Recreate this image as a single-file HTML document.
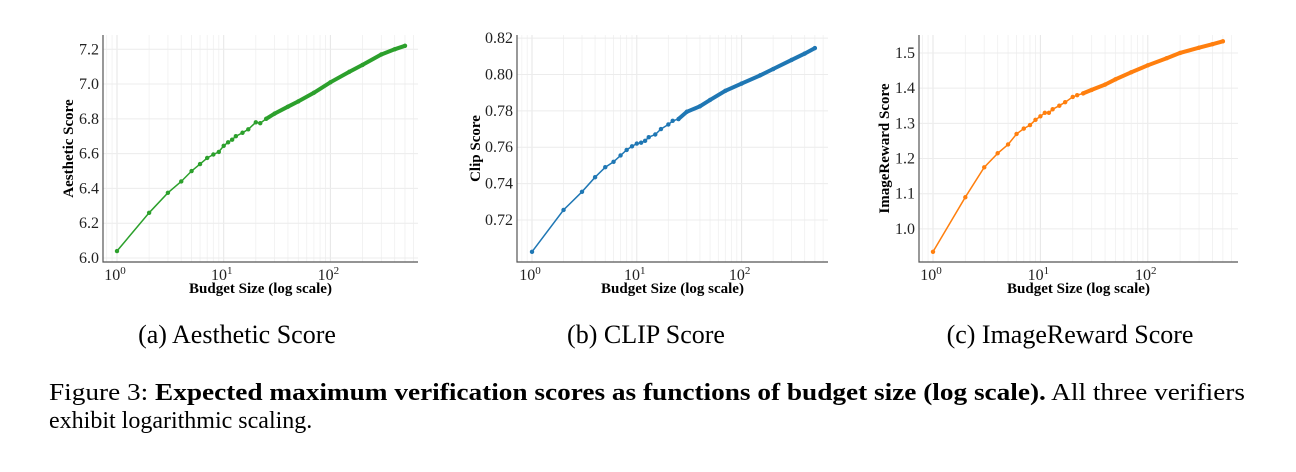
<!DOCTYPE html>
<html><head><meta charset="utf-8"><style>
html,body{margin:0;padding:0;background:#fff;}
svg{display:block;}
text{font-family:"Liberation Serif",serif;}
</style></head><body>
<svg id="fig" width="1296" height="472" viewBox="0 0 1296 472" xmlns="http://www.w3.org/2000/svg">
<text x="237" y="343" font-size="26" text-anchor="middle">(a) Aesthetic Score</text>
<text x="646" y="343" font-size="26" text-anchor="middle">(b) CLIP Score</text>
<text x="1070" y="343" font-size="26" text-anchor="middle">(c) ImageReward Score</text>
<text x="49" y="400" font-size="24" textLength="1196" lengthAdjust="spacingAndGlyphs">Figure 3: <tspan font-weight="bold">Expected maximum verification scores as functions of budget size (log scale).</tspan> All three verifiers</text>
<text x="49" y="428" font-size="24">exhibit logarithmic scaling.</text>
</svg>
<script>
const budgets = [1,2,3,4,5,6,7,8,9,10,11,12,13,15,17,20,22,25,30,40,50,70,100,150,200,300,400,500];
const aestheticValues = [6.04,6.26,6.375,6.44,6.50,6.54,6.575,6.595,6.61,6.645,6.665,6.68,6.70,6.72,6.74,6.78,6.775,6.80,6.83,6.87,6.90,6.95,7.01,7.07,7.11,7.17,7.20,7.22];
const clipValues = [0.7025,0.7255,0.7355,0.7435,0.749,0.752,0.7555,0.7585,0.7605,0.762,0.7625,0.7635,0.7655,0.767,0.770,0.7725,0.7745,0.7755,0.7795,0.7825,0.786,0.791,0.795,0.7995,0.803,0.808,0.8115,0.8145];
const rewardValues = [0.935,1.09,1.175,1.215,1.24,1.27,1.285,1.295,1.31,1.32,1.33,1.33,1.34,1.35,1.36,1.375,1.38,1.385,1.395,1.41,1.425,1.445,1.465,1.485,1.50,1.515,1.525,1.533];
const aestheticTicks = [6.0,6.2,6.4,6.6,6.8,7.0,7.2];
const clipTicks = [0.72,0.74,0.76,0.78,0.80,0.82];
const rewardTicks = [1.0,1.1,1.2,1.3,1.4,1.5];
const xTickExps = [0,1,2];

const NS="http://www.w3.org/2000/svg";
const svg=document.getElementById('fig');
function mk(tag,attrs,parent){const e=document.createElementNS(NS,tag);for(const k in attrs)e.setAttribute(k,attrs[k]);(parent||svg).appendChild(e);return e;}

function chart(cfg){
  const g=mk('g',{});
  
  
  const xs=v=>cfg.x0+Math.log10(v)*cfg.dec;
  const ys=v=>cfg.bottom-(v-cfg.ymin)/(cfg.ymax-cfg.ymin)*(cfg.bottom-cfg.top);
  for(let e=-1;e<3;e++){for(let m=1;m<10;m++){const v=m*Math.pow(10,e);const x=xs(v);if(x<cfg.left+1||x>cfg.right)continue;
    const l=mk('line',{x1:x,x2:x,y1:cfg.top,y2:cfg.bottom,stroke:m===1?'#e6e6e6':'#f0f0f0','stroke-width':m===1?1:0.8},g);
    
    }}
  cfg.ticks.forEach(t=>{const y=ys(t);
    const l=mk('line',{x1:cfg.left,x2:cfg.right,y1:y,y2:y,stroke:'#ececec','stroke-width':1},g);
    
    
    const tx=mk('text',{x:cfg.left-4,y:y+5,'font-size':16,'text-anchor':'end',fill:'#222'},g);
    tx.textContent=cfg.fmt(t);
    
    });
  xTickExps.forEach(e=>{const x=xs(Math.pow(10,e));
    const tx=mk('text',{x:x-2,y:cfg.bottom+18,'font-size':16,'text-anchor':'middle',fill:'#222'},g);
    tx.textContent='10';
    const sup=mk('tspan',{dy:-6,'font-size':11},tx);sup.textContent=String(e);
    
    });
  const ax=mk('path',{d:`M${cfg.left},${cfg.top} V${cfg.bottom} H${cfg.right}`,fill:'none',stroke:'#555','stroke-width':1.2},g);
  
  
  const xl=mk('text',{x:(cfg.left+cfg.right)/2,y:cfg.bottom+31,'font-size':15,'font-weight':'bold','text-anchor':'middle'},g);
  xl.textContent='Budget Size (log scale)';
  
  
  const cy=(cfg.top+cfg.bottom)/2;
  const yl=mk('text',{x:cfg.ylx,y:cy,'font-size':15,'font-weight':'bold','text-anchor':'middle',transform:`rotate(-90 ${cfg.ylx} ${cy})`},g);
  yl.textContent=cfg.ylabel;
  
  
  const pts=budgets.map((b,i)=>xs(b).toFixed(1)+','+ys(cfg.vals[i]).toFixed(1)).join(' ');
  const ln=mk('polyline',{points:pts,fill:'none',stroke:cfg.color,'stroke-width':1.5},g);
  
  
  const dense=budgets.map((b,i)=>[b,cfg.vals[i]]).filter(p=>p[0]>=25).map(p=>xs(p[0]).toFixed(1)+','+ys(p[1]).toFixed(1)).join(' ');
  const dl=mk('polyline',{points:dense,fill:'none',stroke:cfg.color,'stroke-width':4,'stroke-linecap':'round'},g);
  
  
  budgets.forEach((b,i)=>{
    const c=mk('circle',{cx:xs(b),cy:ys(cfg.vals[i]),r:2.2,fill:cfg.color},g);
    
    });
}
chart({name:'aesthetic-chart',left:103,right:418,top:35,bottom:262,x0:117,dec:106.7,ymin:5.977,ymax:7.282,ticks:aestheticTicks,fmt:v=>v.toFixed(1),color:'#2ca02c',ylabel:'Aesthetic Score',vals:aestheticValues,ylx:73});
chart({name:'clip-chart',left:517,right:828,top:35,bottom:262,x0:532,dec:104.8,ymin:0.6969,ymax:0.8217,ticks:clipTicks,fmt:v=>v.toFixed(2),color:'#1f77b4',ylabel:'Clip Score',vals:clipValues,ylx:480});
chart({name:'imagereward-chart',left:919,right:1238,top:35,bottom:262,x0:933,dec:107.4,ymin:0.906,ymax:1.551,ticks:rewardTicks,fmt:v=>v.toFixed(1),color:'#ff7f0e',ylabel:'ImageReward Score',vals:rewardValues,ylx:889});
</script>
</body></html>
